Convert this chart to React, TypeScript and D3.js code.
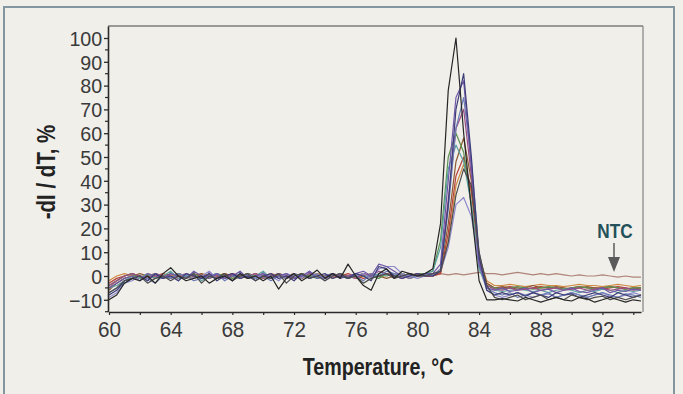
import React, { useRef, useEffect } from 'react';
import { select, scaleLinear, axisLeft, axisBottom, line } from 'd3';

// melt temperatures (°C), one reading every 0.5 degree
const temps = [
  60, 60.5, 61, 61.5, 62, 62.5, 63, 63.5, 64, 64.5,
  65, 65.5, 66, 66.5, 67, 67.5, 68, 68.5, 69, 69.5,
  70, 70.5, 71, 71.5, 72, 72.5, 73, 73.5, 74, 74.5,
  75, 75.5, 76, 76.5, 77, 77.5, 78, 78.5, 79, 79.5,
  80, 80.5, 81, 81.5, 82, 82.5, 83, 83.5, 84, 84.5,
  85, 85.5, 86, 86.5, 87, 87.5, 88, 88.5, 89, 89.5,
  90, 90.5, 91, 91.5, 92, 92.5, 93, 93.5, 94, 94.5
];

// -dI/dT (%) for each well
const wellBlack = [
  -10, -8, -3, -1, -2, 0, -3, 1, 3.5, 0,
  -2, -1, 0, -3, -1, 0, -2, 1, -1, 0,
  -2, 0, -5.5, -1, 1, -2, 0, 2.5, -1, 1,
  -1, 5, 0, -4, -6, 1, 3, -1, 2, 1,
  0, 1, 3, 22, 78, 100, 60, 28, -2, -10,
  -10, -9.5, -10, -10.5, -9, -10, -11, -10, -9, -10,
  -10.5, -9, -9.5, -11, -10, -9, -10, -11, -10, -10.5
];
const wellNavy = [
  -8, -6, -2, -1, 0, -2, 1, -1, 0, -2,
  1, 0, -1, 1, -2, 0, 1, -1, 0, -2,
  0, 1, -1, 0, -2, 1, -1, 0, 1, -1,
  0, -1, 1, 0, -2, 4, 3, 0, -1, 0,
  1, 0, 0, 2, 30, 70, 85, 50, 8, -6,
  -8, -7, -8, -7, -8.5, -7, -8, -9, -7, -8,
  -7.5, -9, -8, -7, -8, -9, -7, -8, -9, -8
];
const wellPurple = [
  -5, -3, -1, 0, -2, 1, 0, -1, 1, 0,
  -1, 2, 0, -1, 1, -1, 0, 2, -1, 0,
  1, -1, 0, 1, -1, 0, 2, -1, 0, 1,
  -1, 0, 1, 2, 0, 5, 4, 2, 0, 1,
  0, 1, 1, 5, 40, 75, 82, 45, 5, -5,
  -6, -5, -6.5, -6, -5, -7, -6, -5.5, -7, -6,
  -5, -6.5, -7, -6, -5, -7, -6, -6.5, -5.5, -6
];
const wellSlate = [
  -7, -5, -3, -1, 0, -1, -3, 0, -1, 1,
  0, -2, -1, 0, 1, -2, 0, -1, 1, -1,
  0, -2, 0, -1, 1, 0, -1, 1, -2, 0,
  1, -1, 0, -2, 1, 0, 2, 1, 0, -1,
  0, 1, 0, 3, 28, 62, 75, 48, 10, -5,
  -7, -8, -7, -9, -8, -7, -8, -7, -9, -8,
  -7, -8, -9, -8, -7, -8, -9, -7.5, -8, -9
];
const wellGreen = [
  -4, -2, 0, 1, -1, 0, 1, 0, -1, 1,
  0, 1, -1, 0, 1, 0, -1, 0, 1, 0,
  -1, 0, 1, 0, -1, 1, 0, -1, 0, 1,
  0, -1, 0, 1, 0, -1, 1, 0, 1, 0,
  1, 1, 2, 15, 50, 60, 52, 30, 4, -4,
  -5, -5.5, -5, -4.5, -5, -5.5, -5, -4.5, -5, -5.5,
  -5, -4.5, -5, -5.5, -5, -4.5, -5, -5.5, -5, -5
];
const wellBrown = [
  -6, -3, -1, 0, 1, 0, -1, 0, 1, 0,
  -1, 0, 1, -1, 0, 1, 0, -1, 0, 1,
  0, -1, 1, 0, 0, -1, 1, 0, -1, 0,
  1, 0, -1, 0, 1, 0, -1, 0, 1, 0,
  0, 0, 0, 2, 22, 48, 58, 40, 8, -3,
  -5, -4.5, -5, -5.5, -5, -4, -5, -5, -4.5, -5,
  -5.5, -5, -4.5, -5, -5, -4.5, -5, -5.5, -5, -5
];
const wellRed = [
  -3, -1, 0, 1, 0, -1, 0, 1, 0, -1,
  0, 1, 0, 0, -1, 0, 1, 0, -1, 0,
  1, 0, 0, -1, 0, 1, 0, 0, -1, 0,
  0, 1, 0, -1, 0, 0, 1, 0, 0, -1,
  0, 0, 0, 1, 18, 42, 50, 36, 7, -3,
  -5, -5, -4.5, -5, -5.5, -5, -4.5, -5, -5, -5.5,
  -5, -4.5, -5, -5, -5.5, -5, -4.5, -5, -5.5, -5
];
const wellOrange = [
  -2, 0, 1, 0, -1, 1, 0, -1, 0, 1,
  0, -1, 1, 0, 0, 1, -1, 0, 1, 0,
  -1, 1, 0, 0, 1, -1, 0, 1, 0, -1,
  1, 0, 0, 1, -1, 0, 0, 1, 0, 0,
  1, 0, 0, 1, 15, 38, 47, 35, 8, -2,
  -4, -4, -3.5, -4, -4.5, -4, -3.5, -4, -4, -4.5,
  -4, -3.5, -4, -4, -4.5, -4, -3.5, -4, -4.5, -4
];
const wellTeal = [
  -5, -4, -2, 0, -1, 1, -1, 0, 2, -1,
  0, 1, -2, 0, 1, -1, 0, 1, -1, 0,
  2, -1, 0, 1, -1, 0, 1, -1, 0, 1,
  0, -1, 1, 0, -1, 1, 0, 1, 0, 1,
  0, 1, 2, 12, 45, 55, 48, 30, 3, -5,
  -6, -6.5, -6, -5.5, -6, -6.5, -6, -7, -6, -5.5,
  -6, -7, -6, -6.5, -5.5, -6, -7, -6, -6.5, -6
];
const wellLilac = [
  -9, -7, -3, -2, 0, -2, 1, -1, 0, -2,
  1, -1, 0, 2, -1, 0, -2, 1, 0, -1,
  1, 0, -2, 1, 0, -1, 2, 0, -1, 0,
  1, -1, 0, 1, -1, 3, 4, 4, 1, 0,
  -1, 0, 1, 2, 12, 30, 33, 25, 5, -6,
  -8, -9, -8, -7, -8, -9, -8, -7.5, -9, -8,
  -7, -8, -9, -8, -7, -8.5, -9, -8, -7, -8
];
const wellGrey = [
  -7, -5, -2, -1, 0, -3, -1, 0, -2, 0,
  -1, 1, -3, 0, -1, 1, -2, 0, 1, -2,
  0, -1, 1, -3, 0, 1, -1, 0, -2, 0,
  1, -1, 0, -3, -1, 0, 1, -1, 0, 1,
  0, 0, 1, 2, 14, 34, 45, 38, 10, -4,
  -9, -10, -9, -8, -10, -9, -8, -10, -9, -10,
  -8, -9, -10, -9, -8.5, -10, -9, -10, -9, -8
];
const wellMagenta = [
  -4, -2, 0, 1, 0, -1, 1, 0, -1, 0,
  1, 0, -1, 1, 0, -1, 1, 0, 0, 1,
  -1, 0, 1, 0, -1, 0, 1, 0, -1, 1,
  0, 0, -1, 1, 0, 2, 1, 0, -1, 0,
  1, 0, 0, 3, 32, 62, 70, 42, 6, -4,
  -5.5, -6, -5, -6, -5.5, -5, -6, -5.5, -5, -6,
  -5.5, -5, -6, -5.5, -5, -6, -5.5, -5, -6, -5.5
];
// no-template control
const wellNTC = [
  -5, -2, 0, 1, 0, 0, 1, 0, 0, 1,
  0, 0, 1, 0, 0, 1, 0, 0, 1, 0,
  0, 1, 0, 0, 1, 0, 0, 1, 0, 0,
  1, 0, 0, 1, 0, 0, 1, 0, 0, 1,
  0.5, 1, 0.5, 1, 0.5, 1, 0.5, 1, 1.5, 1,
  1, 0.5, 1, 1.5, 1, 0.5, 1, 0.5, 1, 0.5,
  0, 0.5, 0, 0, 0.5, 0, -0.5, 0, -0.5, -0.5
];

const xTicks = [60, 62, 64, 66, 68, 70, 72, 74, 76, 78, 80, 82, 84, 86, 88, 90, 92, 94];
const xLabels = [60, 64, 68, 72, 76, 80, 84, 88, 92];
const yTicks = [-10, 0, 10, 20, 30, 40, 50, 60, 70, 80, 90, 100];
const yMinor = [-15, -5, 5, 15, 25, 35, 45, 55, 65, 75, 85, 95];

const wells = [
  { values: wellNTC, color: '#b08478' },
  { values: wellOrange, color: '#d08a44' },
  { values: wellRed, color: '#b5413a' },
  { values: wellBrown, color: '#8e5a34' },
  { values: wellGreen, color: '#5a9050' },
  { values: wellTeal, color: '#5aa2a4' },
  { values: wellMagenta, color: '#9a4c84' },
  { values: wellLilac, color: '#8f8acb' },
  { values: wellSlate, color: '#6b7db4' },
  { values: wellPurple, color: '#7058a8' },
  { values: wellNavy, color: '#3c3c78' },
  { values: wellGrey, color: '#4c4c4c' },
  { values: wellBlack, color: '#262626' }
];

// no condensed face installed: squeeze Liberation Sans instead
const font = "'Liberation Sans', Arial, sans-serif";
const squeezeTick = 'scale(0.96,1)';
const squeeze = 'scale(0.82,1)';

const App = () => {
  const svgRef = useRef(null);

  useEffect(() => {
    const svg = select(svgRef.current);
    const x = scaleLinear().domain([60, 94.5]).range([109, 641]);
    const y = scaleLinear().domain([-15, 105]).range([311.7, 26.1]);

    // traces
    const trace = line<number>()
      .x((d, i) => x(temps[i]))
      .y(d => y(d));

    svg
      .select('.traces')
      .selectAll('path')
      .data(wells)
      .join('path')
      .attr('d', d => trace(d.values))
      .attr('fill', 'none')
      .attr('stroke', d => d.color)
      .attr('stroke-width', 1.2)
      .attr('stroke-linejoin', 'round');

    // y axis
    const yAxis = axisLeft(y).tickValues(yTicks).tickSize(4).tickSizeOuter(0).tickPadding(2);
    const gy = svg.select('.y-axis').attr('transform', 'translate(108,0)').call(yAxis);
    gy.select('.domain').attr('stroke', '#2a2a2a').attr('stroke-width', 1.6);
    gy.selectAll('.tick line').attr('stroke', '#2a2a2a').attr('stroke-width', 1.3);
    gy.selectAll('.tick text')
      .attr('font-family', font)
      .attr('font-size', 20.5)
      .attr('fill', '#3a3a3a')
      .attr('dy', '0.36em')
      .attr('transform', squeezeTick);

    svg
      .select('.y-minor')
      .selectAll('line')
      .data(yMinor)
      .join('line')
      .attr('x1', 105)
      .attr('x2', 108)
      .attr('y1', d => y(d))
      .attr('y2', d => y(d))
      .attr('stroke', '#2a2a2a')
      .attr('stroke-width', 1.2);

    // x axis
    const xAxis = axisBottom(x)
      .tickValues(xTicks)
      .tickSize(3)
      .tickSizeOuter(0)
      .tickFormat(d => (xLabels.includes(d as number) ? String(d) : ''));
    const gx = svg.select('.x-axis').attr('transform', 'translate(0,312)').call(xAxis);
    gx.select('.domain').attr('stroke', '#2a2a2a').attr('stroke-width', 1.6);
    gx.selectAll('.tick line').attr('stroke', '#2a2a2a').attr('stroke-width', 1.2);
    gx.selectAll('.tick text')
      .attr('font-family', font)
      .attr('font-size', 21.5)
      .attr('fill', '#3a3a3a')
      .attr('y', 25)
      .attr('dy', 0)
      .attr('transform', squeezeTick);
  }, []);

  return (
    <svg
      ref={svgRef}
      width={683}
      height={394}
      style={{ position: 'absolute', left: 0, top: 0, background: '#f0efea' }}
    >
      <rect x={0} y={0} width={683} height={394} fill="#f0efea" />
      <rect x={4} y={7} width={670} height={400} fill="none" stroke="#8496a0" strokeWidth={2} />
      <defs>
        <clipPath id="plot-clip">
          <rect x={109} y={26} width={533} height={286} />
        </clipPath>
      </defs>
      <line x1={108} x2={643} y1={26} y2={26} stroke="#7c7c7c" strokeWidth={1.5} />
      <line x1={643} x2={643} y1={26} y2={312} stroke="#8a8a8a" strokeWidth={1.3} />
      <g className="traces" clipPath="url(#plot-clip)" />
      <g className="y-minor" />
      <g className="y-axis" />
      <g className="x-axis" />
      <text
        transform={`translate(378,375) ${squeeze}`}
        textAnchor="middle"
        fontFamily={font}
        fontWeight="bold"
        fontSize={24}
        fill="#222"
      >
        Temperature, °C
      </text>
      <text
        transform={`translate(55,172) rotate(-90) ${squeeze}`}
        textAnchor="middle"
        fontFamily={font}
        fontWeight="bold"
        fontSize={25}
        fill="#222"
      >
        -dI / dT, %
      </text>
      <text
        transform={`translate(615,238) ${squeeze}`}
        textAnchor="middle"
        fontFamily={font}
        fontWeight="bold"
        fontSize={21}
        fill="#24505a"
      >
        NTC
      </text>
      <line x1={614} x2={614} y1={243} y2={260} stroke="#5a5a5a" strokeWidth={1.5} />
      <path d="M608,257 L620,257 L614,272 Z" fill="#5a5a5a" />
    </svg>
  );
};

export default App;
